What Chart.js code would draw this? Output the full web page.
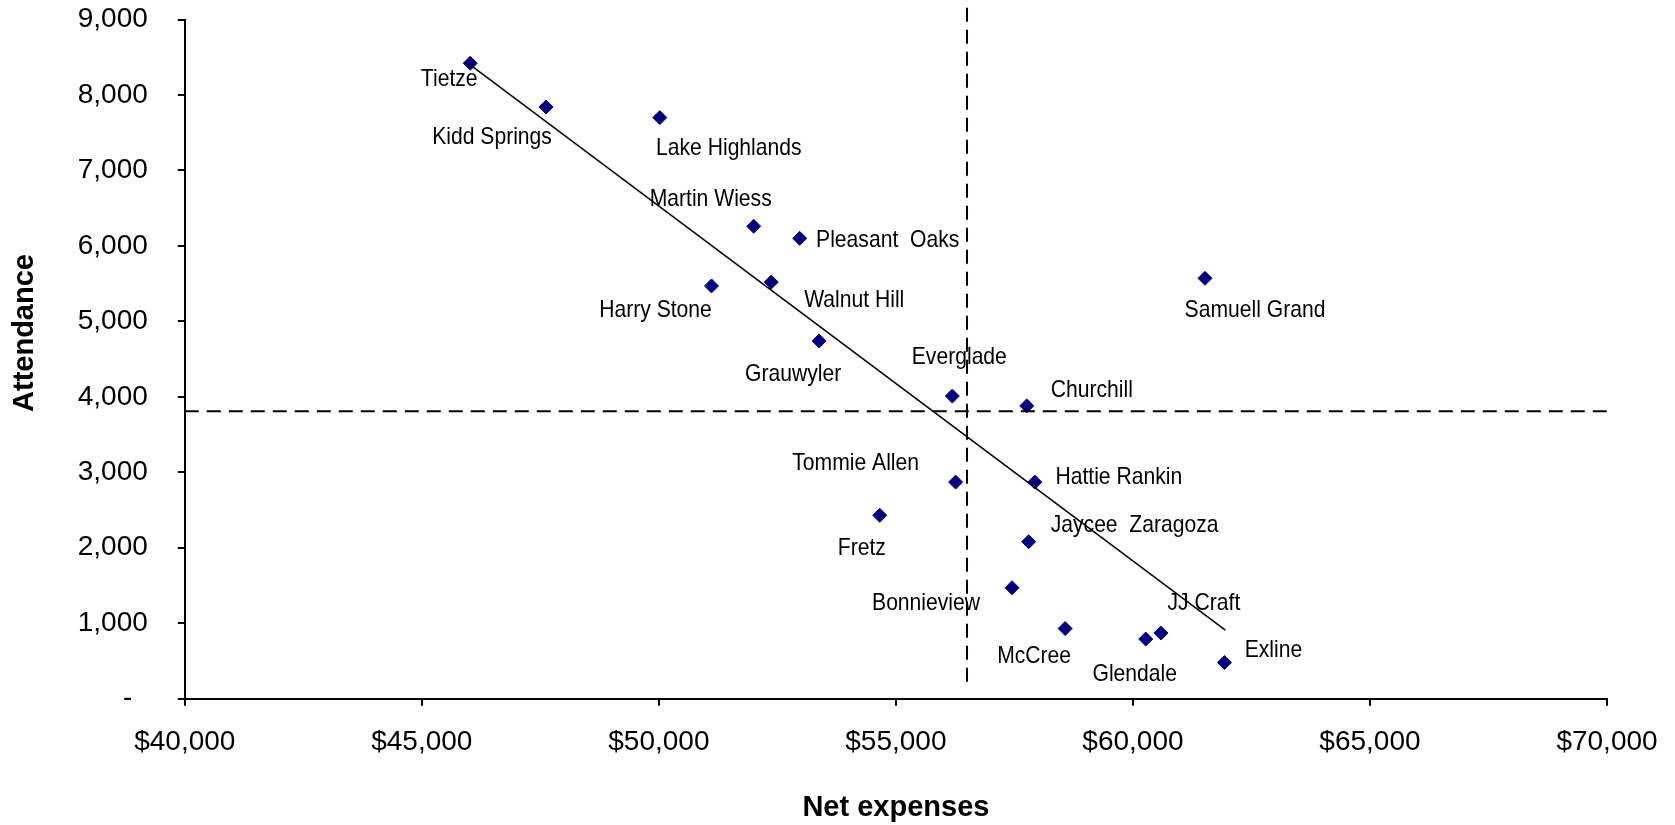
<!DOCTYPE html>
<html>
<head>
<meta charset="utf-8">
<script src="https://cdn.jsdelivr.net/npm/chart.js@4/dist/chart.umd.min.js"></script>
<style>
  html, body { margin: 0; padding: 0; background: #ffffff; }
  #c { display: block; }
</style>
</head>
<body>
<canvas id="c" width="1675" height="825"></canvas>
<script>
// ---- Data ----
const schools = ["Tietze", "Kidd Springs", "Lake Highlands", "Martin Wiess", "Pleasant  Oaks",
  "Harry Stone", "Walnut Hill", "Grauwyler", "Everglade", "Churchill", "Samuell Grand",
  "Tommie Allen", "Hattie Rankin", "Fretz", "Jaycee  Zaragoza", "Bonnieview", "McCree",
  "Glendale", "JJ Craft", "Exline"];
const netExpenses = [46020, 47620, 50020, 52000, 52970, 51110, 52370, 53380, 56190, 57760, 61520,
  56260, 57930, 54660, 57800, 57450, 58570, 60270, 60590, 61930];
const attendance = [8420, 7840, 7700, 6260, 6100, 5470, 5520, 4740, 4010, 3880, 5570,
  2870, 2870, 2430, 2080, 1470, 930, 790, 870, 480];
const xTicks = [40000, 45000, 50000, 55000, 60000, 65000, 70000];
const yTicks = [0, 1000, 2000, 3000, 4000, 5000, 6000, 7000, 8000, 9000];
const trendX = [46000, 61950];
const trendY = [8410, 910];
const avgExpense = 56500;
const avgAttendance = 3810;
const hLineX = [40000, 70000];
const vLineY = [225, 9165];

// ---- Label placement (pixel offsets from each point, styling only) ----
const labelOffsets = [[-21, 16], [-54, 30], [69, 31], [-43, -27], [88, 2], [-56, 24], [83, 18],
  [-26, 33], [7, -39], [65, -16], [50, 32], [-100, -19], [84, -5], [-18, 33], [106, -16],
  [-86, 16], [-31, 28], [-11, 35], [43, -30], [49, -12]];

const tickFont = { family: "'Liberation Sans', Arial, sans-serif", size: 28 };
const titleFont = { family: "'Liberation Sans', Arial, sans-serif", size: 29, weight: 'bold' };
const labelFontCss = "24px 'Liberation Sans', Arial, sans-serif";
const labelScaleX = 0.88;

const pointData = netExpenses.map((x, i) => ({ x: x, y: attendance[i] }));
const trendData = trendX.map((x, i) => ({ x: x, y: trendY[i] }));
const hLineData = hLineX.map(x => ({ x: x, y: avgAttendance }));
const vLineData = vLineY.map(y => ({ x: avgExpense, y: y }));

const pointLabels = {
  id: 'pointLabels',
  afterDatasetsDraw(chart) {
    const meta = chart.getDatasetMeta(3);
    const ctx = chart.ctx;
    meta.data.forEach((el, i) => {
      const off = labelOffsets[i];
      ctx.save();
      ctx.translate(el.x + off[0], el.y + off[1]);
      ctx.scale(labelScaleX, 1);
      ctx.font = labelFontCss;
      ctx.fillStyle = '#000000';
      ctx.textAlign = 'center';
      ctx.textBaseline = 'middle';
      ctx.fillText(schools[i], 0, 0);
      ctx.restore();
    });
  }
};

const yTitle = {
  id: 'yTitle',
  afterDraw(chart) {
    const ctx = chart.ctx;
    ctx.save();
    ctx.translate(25, 333);
    ctx.rotate(-Math.PI / 2);
    ctx.font = "bold 29px 'Liberation Sans', Arial, sans-serif";
    ctx.fillStyle = '#000000';
    ctx.textAlign = 'center';
    ctx.textBaseline = 'middle';
    ctx.fillText('Attendance', 0, 0);
    ctx.restore();
  }
};

new Chart(document.getElementById('c'), {
  type: 'scatter',
  data: {
    datasets: [
      { label: 'Trend', data: trendData, showLine: true, borderColor: '#000000', borderWidth: 1.5,
        pointRadius: 0, fill: false },
      { label: 'Average attendance', data: hLineData, showLine: true, borderColor: '#000000',
        borderWidth: 2, borderDash: [14, 8], pointRadius: 0, fill: false, clip: false },
      { label: 'Average expenses', data: vLineData, showLine: true, borderColor: '#000000',
        borderWidth: 2, borderDash: [14, 8], pointRadius: 0, fill: false, clip: false },
      { label: 'Schools', data: pointData, pointStyle: 'rectRot', pointRadius: 7,
        backgroundColor: '#000080', borderColor: '#000080', borderWidth: 1 }
    ]
  },
  options: {
    responsive: false,
    animation: false,
    devicePixelRatio: 1,
    layout: { padding: { top: 19.5, right: 68, bottom: 0, left: 0 } },
    plugins: { legend: { display: false }, tooltip: { enabled: false } },
    scales: {
      x: {
        type: 'linear', min: 40000, max: 70000,
        afterBuildTicks: (s) => { s.ticks = xTicks.map(v => ({ value: v })); },
        afterFit: (s) => { s.height = 126.3; s.paddingLeft = 0; s.paddingRight = 0; },
        ticks: {
          color: '#000000', font: tickFont, padding: 20, maxRotation: 0,
          callback: (v) => '$' + Number(v).toLocaleString('en-US')
        },
        grid: { drawOnChartArea: false, drawTicks: true, tickLength: 7, color: '#000000', lineWidth: 2 },
        border: { display: true, color: '#000000', width: 2 },
        title: { display: true, text: 'Net expenses', color: '#000000', font: titleFont,
          padding: { top: 0, bottom: 0 } }
      },
      y: {
        type: 'linear', min: 0, max: 9000,
        afterBuildTicks: (s) => { s.ticks = yTicks.map(v => ({ value: v })); },
        afterFit: (s) => { s.width = 184.8; s.paddingTop = 0; s.paddingBottom = 0; },
        ticks: {
          color: '#000000', font: tickFont, padding: 30,
          callback: (v) => v === 0 ? '-  ' : Number(v).toLocaleString('en-US')
        },
        grid: { drawOnChartArea: false, drawTicks: true, tickLength: 7, color: '#000000', lineWidth: 2 },
        border: { display: true, color: '#000000', width: 2 }
      }
    }
  },
  plugins: [pointLabels, yTitle]
});
</script>
</body>
</html>
